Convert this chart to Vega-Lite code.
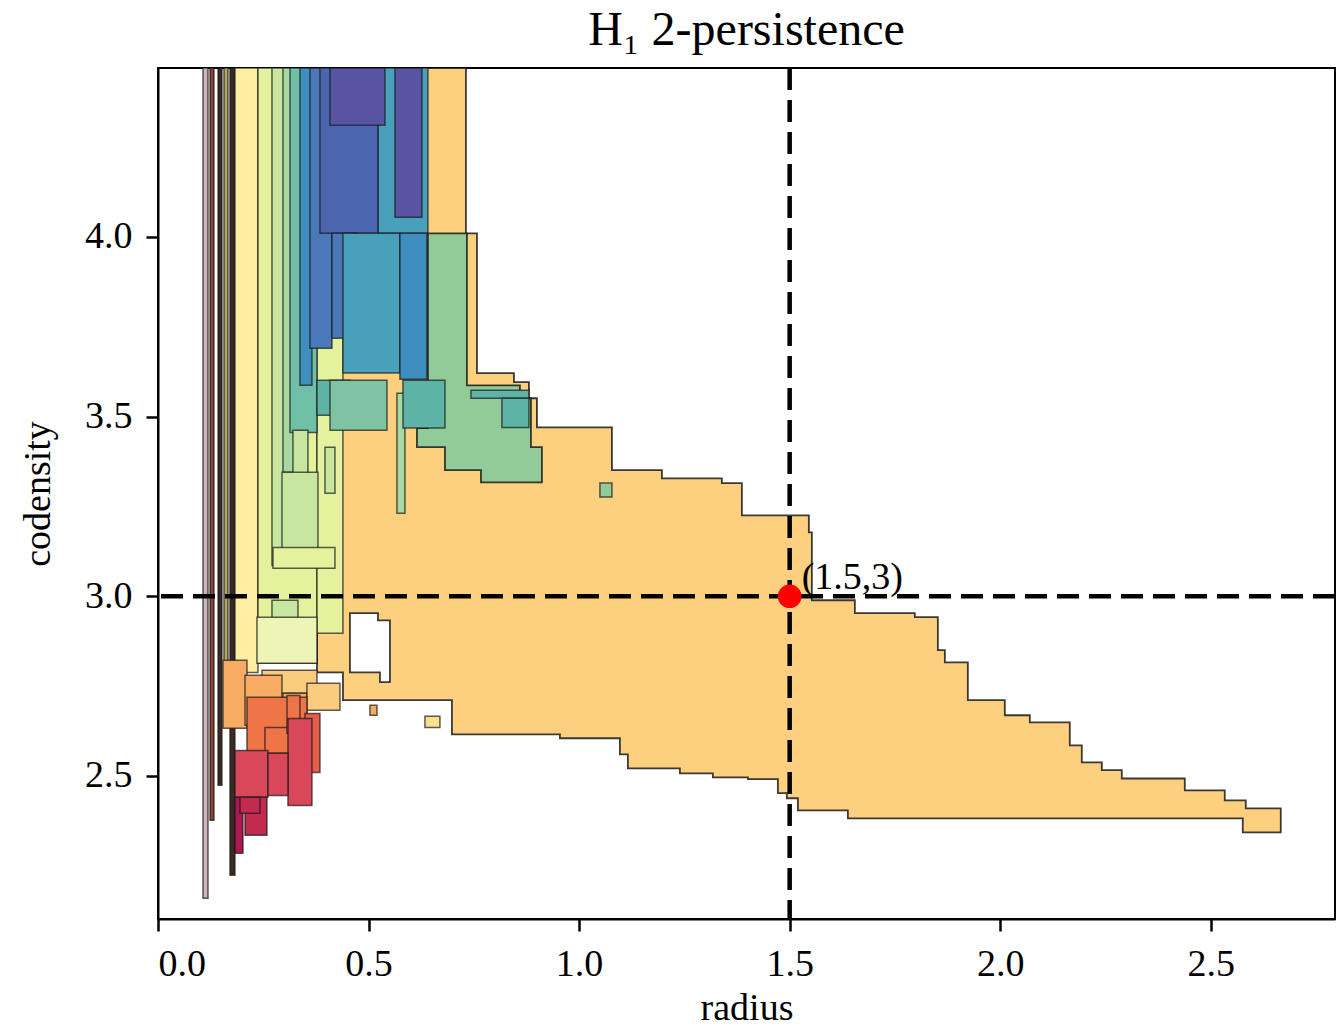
{
 "$schema": "https://vega.github.io/schema/vega-lite/v6.json",
 "width": 1177, "height": 851,
 "autosize": {"type": "none"},
 "padding": {"left": 158, "top": 68, "right": 8, "bottom": 110},
 "background": "white",
 "title": {"text": "H₁ 2-persistence", "font": "Liberation Serif", "fontSize": 48, "fontWeight": "normal", "color": "black", "anchor": "middle", "baseline": "alphabetic", "offset": -27},
 "config": {
  "view": {"stroke": "black", "strokeWidth": 2},
  "axis": {"grid": false, "domainColor": "black", "domainWidth": 2, "tickColor": "black", "tickWidth": 2.5, "tickSize": 12, "labelFont": "Liberation Serif", "labelFontSize": 38, "labelColor": "black", "labelPadding": 14, "titleFont": "Liberation Serif", "titleFontSize": 38, "titleFontWeight": "normal", "titleColor": "black"},
  "axisX": {"titlePadding": 6},
  "axisY": {"titlePadding": 27}
 },
 "datasets": {
  "big": [
   {"x": 0.3775, "y": 4.47, "y2": 2.788},
   {"x": 0.4392, "y": 4.47, "y2": 2.711},
   {"x": 0.6980, "y": 4.47, "y2": 2.616},
   {"x": 0.7312, "y": 4.010, "y2": 2.616},
   {"x": 0.7574, "y": 3.621, "y2": 2.616},
   {"x": 0.8452, "y": 3.596, "y2": 2.616},
   {"x": 0.8808, "y": 3.551, "y2": 2.616},
   {"x": 0.8998, "y": 3.470, "y2": 2.616},
   {"x": 0.9544, "y": 3.470, "y2": 2.605},
   {"x": 1.0779, "y": 3.351, "y2": 2.605},
   {"x": 1.0969, "y": 3.351, "y2": 2.560},
   {"x": 1.1158, "y": 3.351, "y2": 2.521},
   {"x": 1.1966, "y": 3.328, "y2": 2.521},
   {"x": 1.2393, "y": 3.328, "y2": 2.507},
   {"x": 1.3177, "y": 3.328, "y2": 2.496},
   {"x": 1.3390, "y": 3.315, "y2": 2.496},
   {"x": 1.3865, "y": 3.225, "y2": 2.496},
   {"x": 1.4008, "y": 3.225, "y2": 2.491},
   {"x": 1.4720, "y": 3.225, "y2": 2.452},
   {"x": 1.4933, "y": 3.225, "y2": 2.438},
   {"x": 1.5195, "y": 3.225, "y2": 2.404},
   {"x": 1.5456, "y": 3.178, "y2": 2.404},
   {"x": 1.5527, "y": 2.989, "y2": 2.404},
   {"x": 1.6382, "y": 2.989, "y2": 2.382},
   {"x": 1.6548, "y": 2.953, "y2": 2.382},
   {"x": 1.7972, "y": 2.942, "y2": 2.382},
   {"x": 1.8519, "y": 2.850, "y2": 2.382},
   {"x": 1.8685, "y": 2.816, "y2": 2.382},
   {"x": 1.9231, "y": 2.711, "y2": 2.382},
   {"x": 2.0109, "y": 2.669, "y2": 2.382},
   {"x": 2.0703, "y": 2.649, "y2": 2.382},
   {"x": 2.1652, "y": 2.585, "y2": 2.382},
   {"x": 2.1937, "y": 2.538, "y2": 2.382},
   {"x": 2.2412, "y": 2.516, "y2": 2.382},
   {"x": 2.2887, "y": 2.493, "y2": 2.382},
   {"x": 2.4383, "y": 2.460, "y2": 2.382},
   {"x": 2.5332, "y": 2.432, "y2": 2.382},
   {"x": 2.5760, "y": 2.432, "y2": 2.343},
   {"x": 2.5831, "y": 2.410, "y2": 2.343},
   {"x": 2.6662, "y": 2.410, "y2": 2.343}
  ],
  "gap": [
   {"x": 0.4558, "y": 2.953, "y2": 2.788},
   {"x": 0.5223, "y": 2.933, "y2": 2.788},
   {"x": 0.5271, "y": 2.933, "y2": 2.761},
   {"x": 0.5508, "y": 2.933, "y2": 2.761}
  ],
  "mid": [
   {"x": 0.6149, "y": 3.468, "y2": 3.415},
   {"x": 0.6410, "y": 4.010, "y2": 3.415},
   {"x": 0.6814, "y": 4.010, "y2": 3.351},
   {"x": 0.7336, "y": 3.587, "y2": 3.351},
   {"x": 0.7669, "y": 3.587, "y2": 3.317},
   {"x": 0.8594, "y": 3.551, "y2": 3.317},
   {"x": 0.8856, "y": 3.415, "y2": 3.317},
   {"x": 0.9117, "y": 3.415, "y2": 3.317}
  ],
  "rectsA": [
   {"k": "s01", "x": 0.1068, "x2": 0.1187, "y": 2.160, "y2": 4.47},
   {"k": "s02", "x": 0.1235, "x2": 0.1330, "y": 2.377, "y2": 4.47},
   {"k": "s03", "x": 0.1425, "x2": 0.1519, "y": 2.474, "y2": 4.47},
   {"k": "s04", "x": 0.1567, "x2": 0.1662, "y": 2.711, "y2": 4.47},
   {"k": "s03", "x": 0.1709, "x2": 0.1828, "y": 2.224, "y2": 4.47},
   {"k": "s05", "x": 0.1828, "x2": 0.2374, "y": 2.788, "y2": 4.47},
   {"k": "s06", "x": 0.2374, "x2": 0.3775, "y": 2.814, "y2": 4.47},
   {"k": "s06", "x": 0.3775, "x2": 0.4392, "y": 2.897, "y2": 4.47},
   {"k": "s08", "x": 0.2707, "x2": 0.3205, "y": 3.086, "y2": 4.47},
   {"k": "s09", "x": 0.2968, "x2": 0.3537, "y": 3.345, "y2": 4.47},
   {"k": "s10", "x": 0.3134, "x2": 0.3775, "y": 3.456, "y2": 4.47},
   {"k": "s13", "x": 0.3371, "x2": 0.3656, "y": 3.587, "y2": 4.47},
   {"k": "s14", "x": 0.3609, "x2": 0.4131, "y": 3.690, "y2": 4.47},
   {"k": "s17", "x": 0.5223, "x2": 0.6410, "y": 4.010, "y2": 4.47},
   {"k": "s15", "x": 0.3846, "x2": 0.5223, "y": 4.010, "y2": 4.47},
   {"k": "s16", "x": 0.4084, "x2": 0.5389, "y": 4.311, "y2": 4.47},
   {"k": "s14", "x": 0.4131, "x2": 0.4725, "y": 3.718, "y2": 4.010},
   {"k": "s17", "x": 0.4392, "x2": 0.5745, "y": 3.621, "y2": 4.010},
   {"k": "s13", "x": 0.5745, "x2": 0.6387, "y": 3.604, "y2": 4.010},
   {"k": "s16", "x": 0.5627, "x2": 0.6268, "y": 4.055, "y2": 4.47},
   {"k": "s12", "x": 0.3775, "x2": 0.4558, "y": 3.504, "y2": 3.601},
   {"k": "s11", "x": 0.4084, "x2": 0.5437, "y": 3.462, "y2": 3.601},
   {"k": "s09", "x": 0.5674, "x2": 0.5864, "y": 3.231, "y2": 3.565},
   {"k": "s08", "x": 0.3205, "x2": 0.3561, "y": 3.178, "y2": 3.462},
   {"k": "s08", "x": 0.2944, "x2": 0.3799, "y": 3.128, "y2": 3.345},
   {"k": "s08", "x": 0.3965, "x2": 0.4202, "y": 3.287, "y2": 3.415},
   {"k": "s06", "x": 0.2730, "x2": 0.4202, "y": 3.078, "y2": 3.136},
   {"k": "s08", "x": 0.2707, "x2": 0.3324, "y": 2.939, "y2": 2.989},
   {"k": "s07", "x": 0.2350, "x2": 0.3775, "y": 2.814, "y2": 2.942},
   {"k": "s18", "x": 0.2469, "x2": 0.3775, "y": 2.730, "y2": 2.794},
   {"k": "s19", "x": 0.1543, "x2": 0.2113, "y": 2.633, "y2": 2.822},
   {"k": "s19", "x": 0.2066, "x2": 0.2944, "y": 2.641, "y2": 2.780},
   {"k": "s19", "x": 0.2968, "x2": 0.3537, "y": 2.663, "y2": 2.730},
   {"k": "s18", "x": 0.3537, "x2": 0.4321, "y": 2.683, "y2": 2.758},
   {"k": "s20", "x": 0.2113, "x2": 0.3537, "y": 2.563, "y2": 2.719},
   {"k": "s20", "x": 0.2540, "x2": 0.3205, "y": 2.563, "y2": 2.635},
   {"k": "s20", "x": 0.3063, "x2": 0.3371, "y": 2.619, "y2": 2.724},
   {"k": "s21", "x": 0.3490, "x2": 0.3846, "y": 2.510, "y2": 2.674},
   {"k": "s22", "x": 0.3086, "x2": 0.3656, "y": 2.418, "y2": 2.660},
   {"k": "s22", "x": 0.1828, "x2": 0.2612, "y": 2.441, "y2": 2.571},
   {"k": "s22", "x": 0.2612, "x2": 0.3086, "y": 2.446, "y2": 2.563},
   {"k": "s23", "x": 0.2066, "x2": 0.2588, "y": 2.335, "y2": 2.441},
   {"k": "s24", "x": 0.1828, "x2": 0.2018, "y": 2.285, "y2": 2.441},
   {"k": "s23", "x": 0.1947, "x2": 0.2422, "y": 2.396, "y2": 2.441}
  ],
  "rectsB": [
   {"k": "s12", "x": 0.5817, "x2": 0.6814, "y": 3.468, "y2": 3.601},
   {"k": "s12", "x": 0.7431, "x2": 0.8808, "y": 3.551, "y2": 3.573},
   {"k": "s12", "x": 0.8167, "x2": 0.8808, "y": 3.470, "y2": 3.551},
   {"k": "s25", "x": 1.0494, "x2": 1.0779, "y": 3.276, "y2": 3.315},
   {"k": "s26", "x": 0.6339, "x2": 0.6695, "y": 2.635, "y2": 2.666},
   {"k": "s19", "x": 0.5033, "x2": 0.5200, "y": 2.669, "y2": 2.697}
  ],
  "pt": [
   {"x": 1.5, "y": 3, "label": "(1.5,3)"}
  ]
 },
 "layer": [
  {
   "data": {"name": "big"},
   "mark": {"type": "area", "interpolate": "step-after", "fill": "#fcd07f", "stroke": "#1a1a1a", "strokeWidth": 1.8, "strokeOpacity": 0.85, "clip": true},
   "encoding": {
    "x": {"field": "x", "type": "quantitative", "scale": {"domain": [0, 2.795], "nice": false, "zero": false}, "axis": {"values": [0, 0.5, 1, 1.5, 2, 2.5], "format": ".1f"}, "title": "radius"},
    "y": {"field": "y", "type": "quantitative", "scale": {"domain": [2.102, 4.47], "nice": false, "zero": false}, "axis": {"values": [2.5, 3, 3.5, 4], "format": ".1f"}, "title": "codensity"},
    "y2": {"field": "y2"}
   }
  },
  {
   "data": {"name": "gap"},
   "mark": {"type": "area", "interpolate": "step-after", "fill": "white", "stroke": "#1a1a1a", "strokeWidth": 1.8, "strokeOpacity": 0.85, "clip": true},
   "encoding": {
    "x": {"field": "x", "type": "quantitative", "title": "radius"},
    "y": {"field": "y", "type": "quantitative", "title": "codensity"},
    "y2": {"field": "y2"}
   }
  },
  {
   "data": {"name": "rectsA"},
   "mark": {"type": "rect", "stroke": "#1a1a1a", "strokeWidth": 1.5, "strokeOpacity": 0.7, "clip": true},
   "encoding": {
    "x": {"field": "x", "type": "quantitative", "title": "radius"},
    "x2": {"field": "x2"},
    "y": {"field": "y", "type": "quantitative", "title": "codensity"},
    "y2": {"field": "y2"},
    "color": {"field": "k", "type": "nominal", "legend": null, "scale": {"domain": ["s01","s02","s03","s04","s05","s06","s07","s08","s09","s10","s11","s12","s13","s14","s15","s16","s17","s18","s19","s20","s21","s22","s23","s24","s25","s26"], "range": ["#cdb3bb","#8e3e33","#3a2a22","#b5a862","#fdeea2","#e4f29e","#eef4b6","#c7e6a0","#a7d9a3","#6fc0a6","#7fc4a2","#5cb3a6","#3f8ec0","#4a78b8","#4b66ae","#5654a3","#48a0ba","#fbcb7e","#f8ab62","#ef7548","#e55d4b","#d8475a","#c32a50","#ae1752","#90cb98","#f7e08f"]}}
   }
  },
  {
   "data": {"name": "mid"},
   "mark": {"type": "area", "interpolate": "step-after", "fill": "#90cb98", "stroke": "#1a1a1a", "strokeWidth": 1.8, "strokeOpacity": 0.85, "clip": true},
   "encoding": {
    "x": {"field": "x", "type": "quantitative", "title": "radius"},
    "y": {"field": "y", "type": "quantitative", "title": "codensity"},
    "y2": {"field": "y2"}
   }
  },
  {
   "data": {"name": "rectsB"},
   "mark": {"type": "rect", "stroke": "#1a1a1a", "strokeWidth": 1.5, "strokeOpacity": 0.7, "clip": true},
   "encoding": {
    "x": {"field": "x", "type": "quantitative", "title": "radius"},
    "x2": {"field": "x2"},
    "y": {"field": "y", "type": "quantitative", "title": "codensity"},
    "y2": {"field": "y2"},
    "color": {"field": "k", "type": "nominal", "legend": null}
   }
  },
  {
   "data": {"values": [{"r": 1.5}]},
   "mark": {"type": "rule", "color": "black", "strokeWidth": 4.5, "strokeDash": [22, 10]},
   "encoding": {"x": {"field": "r", "type": "quantitative", "title": "radius"}}
  },
  {
   "data": {"values": [{"c": 3}]},
   "mark": {"type": "rule", "color": "black", "strokeWidth": 4.5, "strokeDash": [22, 10]},
   "encoding": {"y": {"field": "c", "type": "quantitative", "title": "codensity"}}
  },
  {
   "data": {"name": "pt"},
   "mark": {"type": "circle", "size": 560, "color": "#ff0000", "opacity": 1},
   "encoding": {
    "x": {"field": "x", "type": "quantitative", "title": "radius"},
    "y": {"field": "y", "type": "quantitative", "title": "codensity"}
   }
  },
  {
   "data": {"name": "pt"},
   "mark": {"type": "text", "align": "left", "baseline": "alphabetic", "dx": 12, "dy": -7, "font": "Liberation Serif", "fontSize": 38, "color": "black"},
   "encoding": {
    "x": {"field": "x", "type": "quantitative", "title": "radius"},
    "y": {"field": "y", "type": "quantitative", "title": "codensity"},
    "text": {"field": "label"}
   }
  }
 ]
}
